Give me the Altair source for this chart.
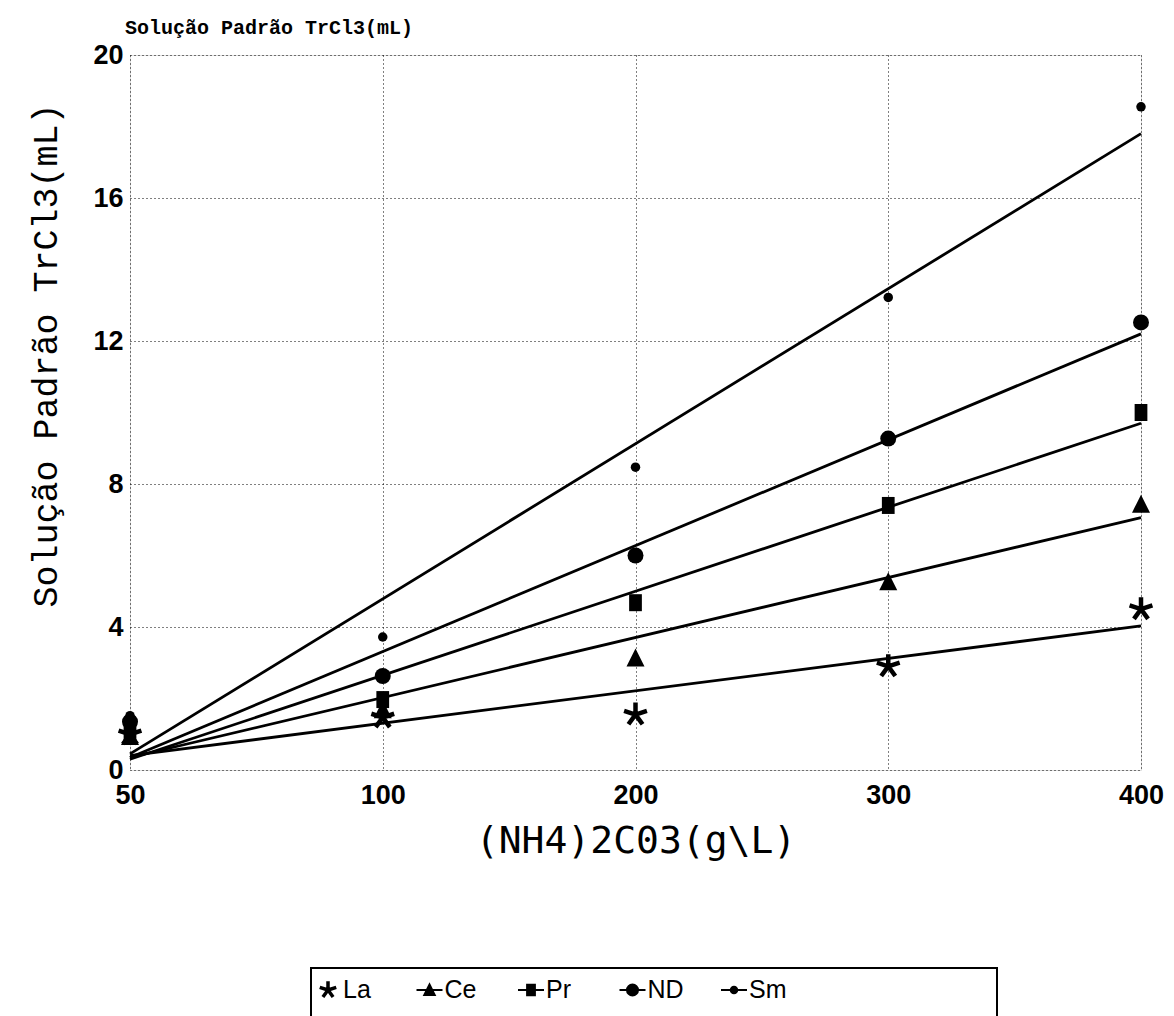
import altair as alt
import pandas as pd

# ---- data ----
x_labels = ["50", "100", "200", "300", "400"]
series_names = ["La", "Ce", "Pr", "ND", "Sm"]
la_values = [1.0, 1.47, 1.55, 2.9, 4.5]
ce_values = [0.95, 1.7, 3.15, 5.28, 7.45]
pr_values = [1.05, 1.97, 4.68, 7.4, 10.0]
nd_values = [1.35, 2.63, 6.0, 9.27, 12.52]
sm_values = [1.52, 3.72, 8.47, 13.22, 18.55]
fit_start = [0.4, 0.35, 0.3, 0.35, 0.45]   # fitted line value at 50
fit_end = [4.03, 7.06, 9.7, 12.2, 17.8]    # fitted line value at 400
y_ticks = [0, 4, 8, 12, 16, 20]
legend_slots = [0, 1, 2, 3, 4]

title_text = "Solução Padrão TrCl3(mL)"
x_title = "(NH4)2C03(g\\L)"

values_by_series = [la_values, ce_values, pr_values, nd_values, sm_values]
pts = pd.DataFrame(
    [{"x": x, "y": v, "s": s}
     for s, vals in zip(series_names, values_by_series)
     for x, v in zip(x_labels, vals)]
)
fits = pd.DataFrame(
    [row for s, a, b in zip(series_names, fit_start, fit_end)
     for row in ({"x": x_labels[0], "y": a, "s": s},
                 {"x": x_labels[-1], "y": b, "s": s})]
)
leg = pd.DataFrame({"slot": legend_slots, "label": series_names})

NUM_FONT = "Liberation Sans Narrow, Liberation Sans, sans-serif"
MONO = "Liberation Mono, monospace"

STAR = ("M0,0L0,-1M0,0L0.951,-0.309M0,0L0.588,0.809"
        "M0,0L-0.588,0.809M0,0L-0.951,-0.309")
TRI = "M0,-1L1,1H-1Z"
SQR = "M-0.75,-1H0.75V1H-0.75Z"

marker_styles = {
    "La": dict(shape=STAR, size=576, filled=False, strokeWidth=4.5),
    "Ce": dict(shape=TRI, size=324, filled=True),
    "Pr": dict(shape=SQR, size=289, filled=True),
    "ND": dict(shape="circle", size=256, filled=True),
    "Sm": dict(shape="circle", size=90, filled=True),
}

legend_styles = {
    "La": dict(shape=STAR, size=300, strokeWidth=3.5),
    "Ce": dict(shape="M-2,0H2M0,-0.85L0.8,0.75H-0.8Z", size=169, strokeWidth=2),
    "Pr": dict(shape="M-2,0H2M-0.6,-0.8H0.6V0.8H-0.6Z", size=169, strokeWidth=2),
    "ND": dict(shape="M-2,0H2M0.85,0A0.85,0.85,0,1,1,-0.85,0A0.85,0.85,0,1,1,0.85,0Z",
               size=169, strokeWidth=2),
    "Sm": dict(shape="M-2,0H2M0.5,0A0.5,0.5,0,1,1,-0.5,0A0.5,0.5,0,1,1,0.5,0Z",
               size=169, strokeWidth=2),
}

x_enc = alt.X(
    "x:O",
    sort=x_labels,
    scale=alt.Scale(type="point", padding=0),
    axis=alt.Axis(
        title=x_title,
        labelAngle=0,
        labelFont=NUM_FONT,
        labelFontSize=27,
        labelFontWeight="bold",
        labelColor="black",
        labelPadding=12,
        labelOverlap=False,
        ticks=False,
        domain=False,
        grid=True,
        gridColor="black",
        gridDash=[1, 3],
        gridWidth=1,
        titleFont="DejaVu Sans Mono, monospace",
        titleFontSize=38,
        titleFontWeight="normal",
        titleColor="black",
        titlePadding=14,
    ),
)
y_enc = alt.Y(
    "y:Q",
    scale=alt.Scale(domain=[0, 20], nice=False, zero=True),
    axis=alt.Axis(
        title=title_text,
        values=y_ticks,
        labelFont=NUM_FONT,
        labelFontSize=27,
        labelFontWeight="bold",
        labelColor="black",
        labelPadding=7,
        ticks=False,
        domain=False,
        grid=True,
        gridColor="black",
        gridDash=[1, 3],
        gridWidth=1,
        titleFont=MONO,
        titleFontSize=35,
        titleFontWeight="normal",
        titleColor="black",
        titleX=-85,
        titleY=300,
        titleAngle=270,
        titleAlign="center",
        titleBaseline="middle",
    ),
)

fit_layer = alt.Chart(fits).mark_line(color="black", strokeWidth=2.8).encode(
    x=x_enc, y=y_enc, detail="s:N"
)

point_layers = []
for s in series_names:
    st = marker_styles[s]
    kw = dict(shape=st["shape"], size=st["size"], filled=st["filled"],
              color="black", opacity=1)
    if "strokeWidth" in st:
        kw["strokeWidth"] = st["strokeWidth"]
    point_layers.append(
        alt.Chart(pts[pts.s == s]).mark_point(**kw).encode(x=x_enc, y=y_enc)
    )

main = alt.layer(fit_layer, *point_layers)

# ---- legend (boxed, below the plot) ----
lx = alt.X("slot:Q", scale=alt.Scale(domain=[0, 4], range=[198, 604]), axis=None)
LEG_Y = 935

box = alt.Chart(pd.DataFrame({"k": [0]})).mark_rect(
    fillOpacity=0, stroke="black", strokeWidth=2
).encode(
    x=alt.value(181), x2=alt.value(867), y=alt.value(913), y2=alt.value(990)
)

legend_symbols = []
for i, s in enumerate(series_names):
    st = legend_styles[s]
    legend_symbols.append(
        alt.Chart(leg[leg.label == s]).mark_point(
            shape=st["shape"], size=st["size"], filled=True,
            fill="black", stroke="black", strokeWidth=st["strokeWidth"], opacity=1
        ).encode(x=lx, y=alt.value(LEG_Y))
    )

legend_text = alt.Chart(leg).mark_text(
    align="left", baseline="middle", dx=15, font=NUM_FONT, fontSize=25,
    color="black"
).encode(x=lx, y=alt.value(LEG_Y), text="label:N")

legend = alt.layer(box, *legend_symbols, legend_text)

chart = alt.layer(main, legend).resolve_scale(
    x="independent", y="independent"
).properties(
    width=1011,
    height=715,
    padding={"left": 130, "top": 55, "right": 33, "bottom": 246},
    autosize=alt.AutoSizeParams(type="none"),
    title=alt.TitleParams(
        title_text, anchor="start", frame="group", font=MONO, fontSize=20,
        fontWeight="bold", color="black", offset=3, dx=-5
    ),
).configure_view(
    stroke="black", strokeWidth=2.5
).configure(background="white")

chart.save("out.html", embed_options={"renderer": "svg", "actions": False})
